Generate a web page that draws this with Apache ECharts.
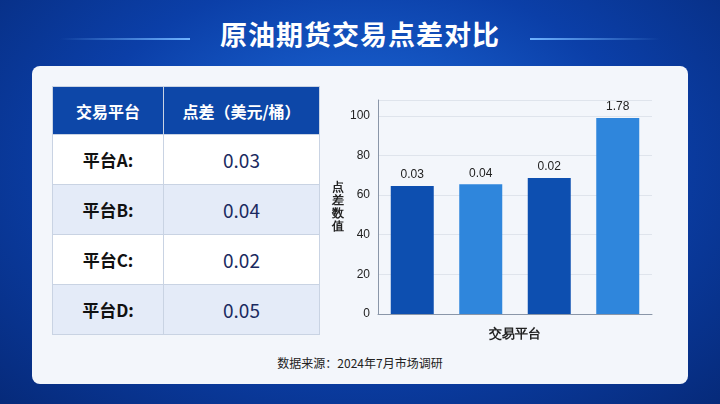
<!DOCTYPE html>
<html>
<head>
<meta charset="utf-8">
<script src="https://cdn.jsdelivr.net/npm/echarts@6/dist/echarts.min.js"></script>
<style>
  body { margin:0; width:720px; height:404px; overflow:hidden; font-family:"Noto Sans CJK SC","Noto Sans",sans-serif;
    background: radial-gradient(ellipse at 50% 40%, #1f6fe0 0%, #0b3fa8 55%, #062a7a 100%); position:relative; }
  #title { position:absolute; top:14px; left:0; width:720px; text-align:center; color:#fff; font-size:27px; font-weight:bold; letter-spacing:1px; }
  .ln { position:absolute; top:38px; height:2px; width:130px; }
  #card { position:absolute; left:32px; top:66px; width:656px; height:318px; background:#f3f6fb; border-radius:8px; }
  table { position:absolute; left:20px; top:20px; width:268px; border-collapse:collapse; table-layout:fixed; }
  th { background:#0d47a8; color:#fff; font-size:16px; height:47px; padding:0; font-weight:bold; border:1px solid #c9d3e3; }
  td { height:50px; padding:0; border:1px solid #c9d3e3; font-size:19px; color:#1a2a60; text-align:center; box-sizing:border-box; }
  td.n { font-weight:bold; color:#111; font-size:17px; }
  tr.r0 td { background:#fff; }
  tr.r1 td { background:#e4ebf8; }
  #chart { position:absolute; left:296px; top:18px; width:350px; height:262px; }
  #src { position:absolute; left:0; width:656px; top:288px; text-align:center; font-size:12px; color:#222; }
</style>
</head>
<body>
<div class="ln" style="left:60px;background:linear-gradient(90deg,transparent,#6fb3ff)"></div>
<div class="ln" style="left:530px;background:linear-gradient(90deg,#6fb3ff,transparent)"></div>
<div id="title">原油期货交易点差对比</div>
<div id="card">
  <table id="tbl"></table>
  <div id="chart"></div>
  <div id="src">数据来源：2024年7月市场调研</div>
</div>
<script>
var platforms = ['平台A', '平台B', '平台C', '平台D'];
var spreads = ['0.03', '0.04', '0.02', '0.05'];
var barValues = [64.6, 65.5, 68.6, 98.9];
var barLabels = ['0.03', '0.04', '0.02', '1.78'];
var barColors = ['#0d4fb0', '#2f86dc', '#0d4fb0', '#2f86dc'];

var html = '<colgroup><col style="width:111px"><col></colgroup><tr><th>交易平台</th><th>点差（美元/桶）</th></tr>';
platforms.forEach(function (p, i) {
  html += '<tr class="r' + (i % 2) + '"><td class="n">' + p + ':</td><td>' + spreads[i] + '</td></tr>';
});
document.getElementById('tbl').innerHTML = html;

var chart = echarts.init(document.getElementById('chart'));
chart.setOption({
  grid: { left: 50, right: 26, top: 16, bottom: 27 },
  xAxis: {
    type: 'category', data: platforms, name: '交易平台', nameLocation: 'middle', nameGap: 14,
    nameTextStyle: { fontSize: 13, color: '#222', fontWeight: 'bold' },
    axisLabel: { show: false }, axisTick: { show: false },
    axisLine: { lineStyle: { color: '#8a96a8' } }
  },
  yAxis: {
    type: 'value', min: 0, max: 108, interval: 20,
    name: '点\n差\n数\n值', nameLocation: 'middle', nameGap: 34, nameRotate: 0,
    nameTextStyle: { fontSize: 12, color: '#222', fontWeight: 'bold', lineHeight: 13 },
    axisLabel: { color: '#222', fontSize: 12, showMaxLabel: false },
    axisLine: { show: true, lineStyle: { color: '#8a96a8' } },
    splitLine: { lineStyle: { color: '#dfe4ec' } }
  },
  series: [{
    type: 'bar', barWidth: 43,
    data: barValues.map(function (v, i) {
      return { value: v, itemStyle: { color: barColors[i] },
        label: { show: true, position: 'top', formatter: barLabels[i], color: '#222', fontSize: 12 } };
    })
  }]
});
</script>
</body>
</html>
